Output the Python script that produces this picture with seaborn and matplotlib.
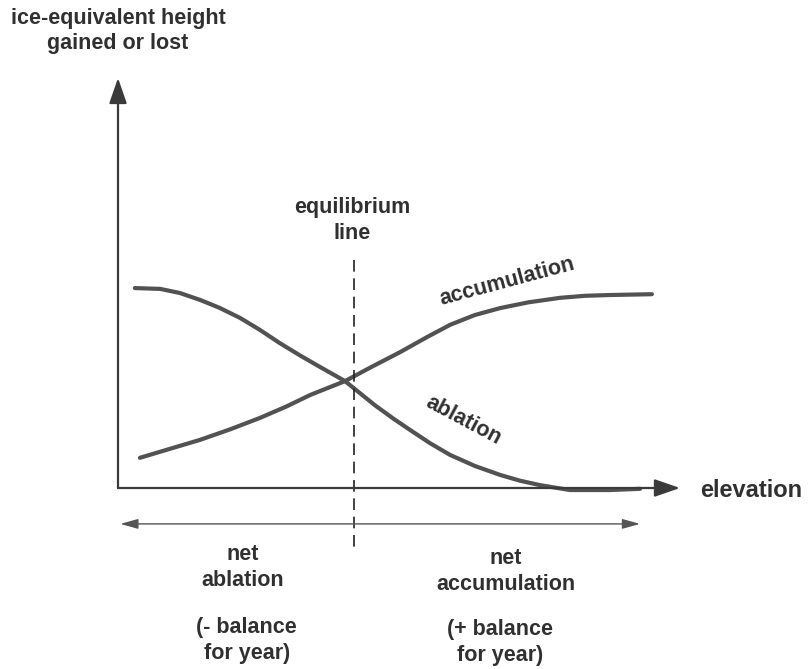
import matplotlib
matplotlib.use("Agg")
import matplotlib.pyplot as plt
import seaborn as sns
import pandas as pd

# ---- data (schematic) ----
elev_acc = [3.9, 9.0, 14.6, 20.0, 25.3, 30.0, 34.2, 40.4, 45.0, 50.2, 55.0, 59.1, 63.5, 68.0, 73.0, 78.6, 83.0, 87.5, 95.0]
acc_vals = [7.4, 9.5, 11.8, 14.4, 17.2, 20.0, 22.8, 26.2, 29.6, 33.3, 37.0, 40.0, 42.4, 44.1, 45.5, 46.6, 47.1, 47.3, 47.5]

elev_abl = [3.0, 7.5, 11.0, 14.6, 18.0, 21.7, 25.2, 28.8, 32.5, 35.9, 40.4, 45.7, 49.0, 52.0, 55.5, 59.1, 63.5, 68.0, 71.5, 75.1, 80.4, 87.5, 92.9]
abl_vals = [49.0, 48.8, 47.8, 46.1, 44.2, 41.7, 38.8, 35.5, 32.4, 29.7, 26.2, 20.3, 17.0, 14.2, 11.0, 8.1, 5.4, 3.2, 1.8, 0.7, -0.5, -0.5, -0.2]

equilibrium_elev = 42.0
labels = {
    "yaxis": "ice-equivalent height\ngained or lost",
    "xaxis": "elevation",
    "eq": "equilibrium\nline",
    "acc": "accumulation",
    "abl": "ablation",
    "net_abl": "net\nablation",
    "net_acc": "net\naccumulation",
    "bal_neg": "(- balance\nfor year)",
    "bal_pos": "(+ balance\nfor year)",
}

sns.set_theme(style="white")
plt.rcParams["font.family"] = ["Liberation Sans", "DejaVu Sans"]

fig = plt.figure(figsize=(8.09, 6.69), dpi=100)
ax = fig.add_axes([118 / 809, (669 - 488) / 669, (680 - 118) / 809, (488 - 80) / 669])
ax.set_xlim(0, 100)
ax.set_ylim(0, 100)
for s in ax.spines.values():
    s.set_visible(False)
ax.set_xticks([])
ax.set_yticks([])
ax.set_facecolor("white")
fig.patch.set_facecolor("white")

curve_col = "#525252"
axis_col = "#3a3a3a"
text_col = "#303030"

df_acc = pd.DataFrame({"elevation": elev_acc, "height": acc_vals})
df_abl = pd.DataFrame({"elevation": elev_abl, "height": abl_vals})
sns.lineplot(data=df_acc, x="elevation", y="height", ax=ax, color=curve_col, lw=3.0, sort=False, clip_on=False)
sns.lineplot(data=df_abl, x="elevation", y="height", ax=ax, color=curve_col, lw=3.0, sort=False, clip_on=False)
ax.set_xlabel("")
ax.set_ylabel("")

# axes arrows
ax.annotate("", xy=(0, 1.005), xytext=(0, 0), xycoords="axes fraction",
            arrowprops=dict(arrowstyle="-|>,head_length=1.3,head_width=0.45", color=axis_col, lw=1.6,
                            shrinkA=0, shrinkB=0))
ax.annotate("", xy=(1, 0), xytext=(0, 0), xycoords="axes fraction",
            arrowprops=dict(arrowstyle="-|>,head_length=1.3,head_width=0.45", color=axis_col, lw=1.6,
                            shrinkA=0, shrinkB=0))

# equilibrium dashed line
ax.plot([equilibrium_elev, equilibrium_elev], [55.8, -14.7], color="#222222", lw=1.2,
        dashes=(7, 4), clip_on=False)

# double-headed arrow below
ax.annotate("", xy=(0.4, -8.8), xytext=(92.9, -8.8), xycoords="data",
            arrowprops=dict(arrowstyle="<|-|>,head_length=0.9,head_width=0.25", color="#555555", lw=1.0,
                            shrinkA=0, shrinkB=0), annotation_clip=False)

tk = dict(color=text_col, fontsize=15.5, fontweight="bold", ha="center", va="center",
          linespacing=1.3, clip_on=False)
ax.text(0, 112.0, labels["yaxis"], **tk)
ax.text(41.6, 65.6, labels["eq"], **tk)
ax.text(69.2, 50.5, labels["acc"], rotation=15, rotation_mode="anchor", **tk)
ax.text(61.4, 16.5, labels["abl"], rotation=-28, rotation_mode="anchor", **tk)
ax.text(103.6, -0.7, labels["xaxis"], color=text_col, fontsize=17, fontweight="bold",
        ha="left", va="center", clip_on=False)
ax.text(22.1, -19.5, labels["net_abl"], **tk)
ax.text(22.9, -37.3, labels["bal_neg"], **tk)
ax.text(69.0, -20.5, labels["net_acc"], **tk)
ax.text(68.0, -37.9, labels["bal_pos"], **tk)

fig.savefig("out.png", dpi=100, facecolor="white")
